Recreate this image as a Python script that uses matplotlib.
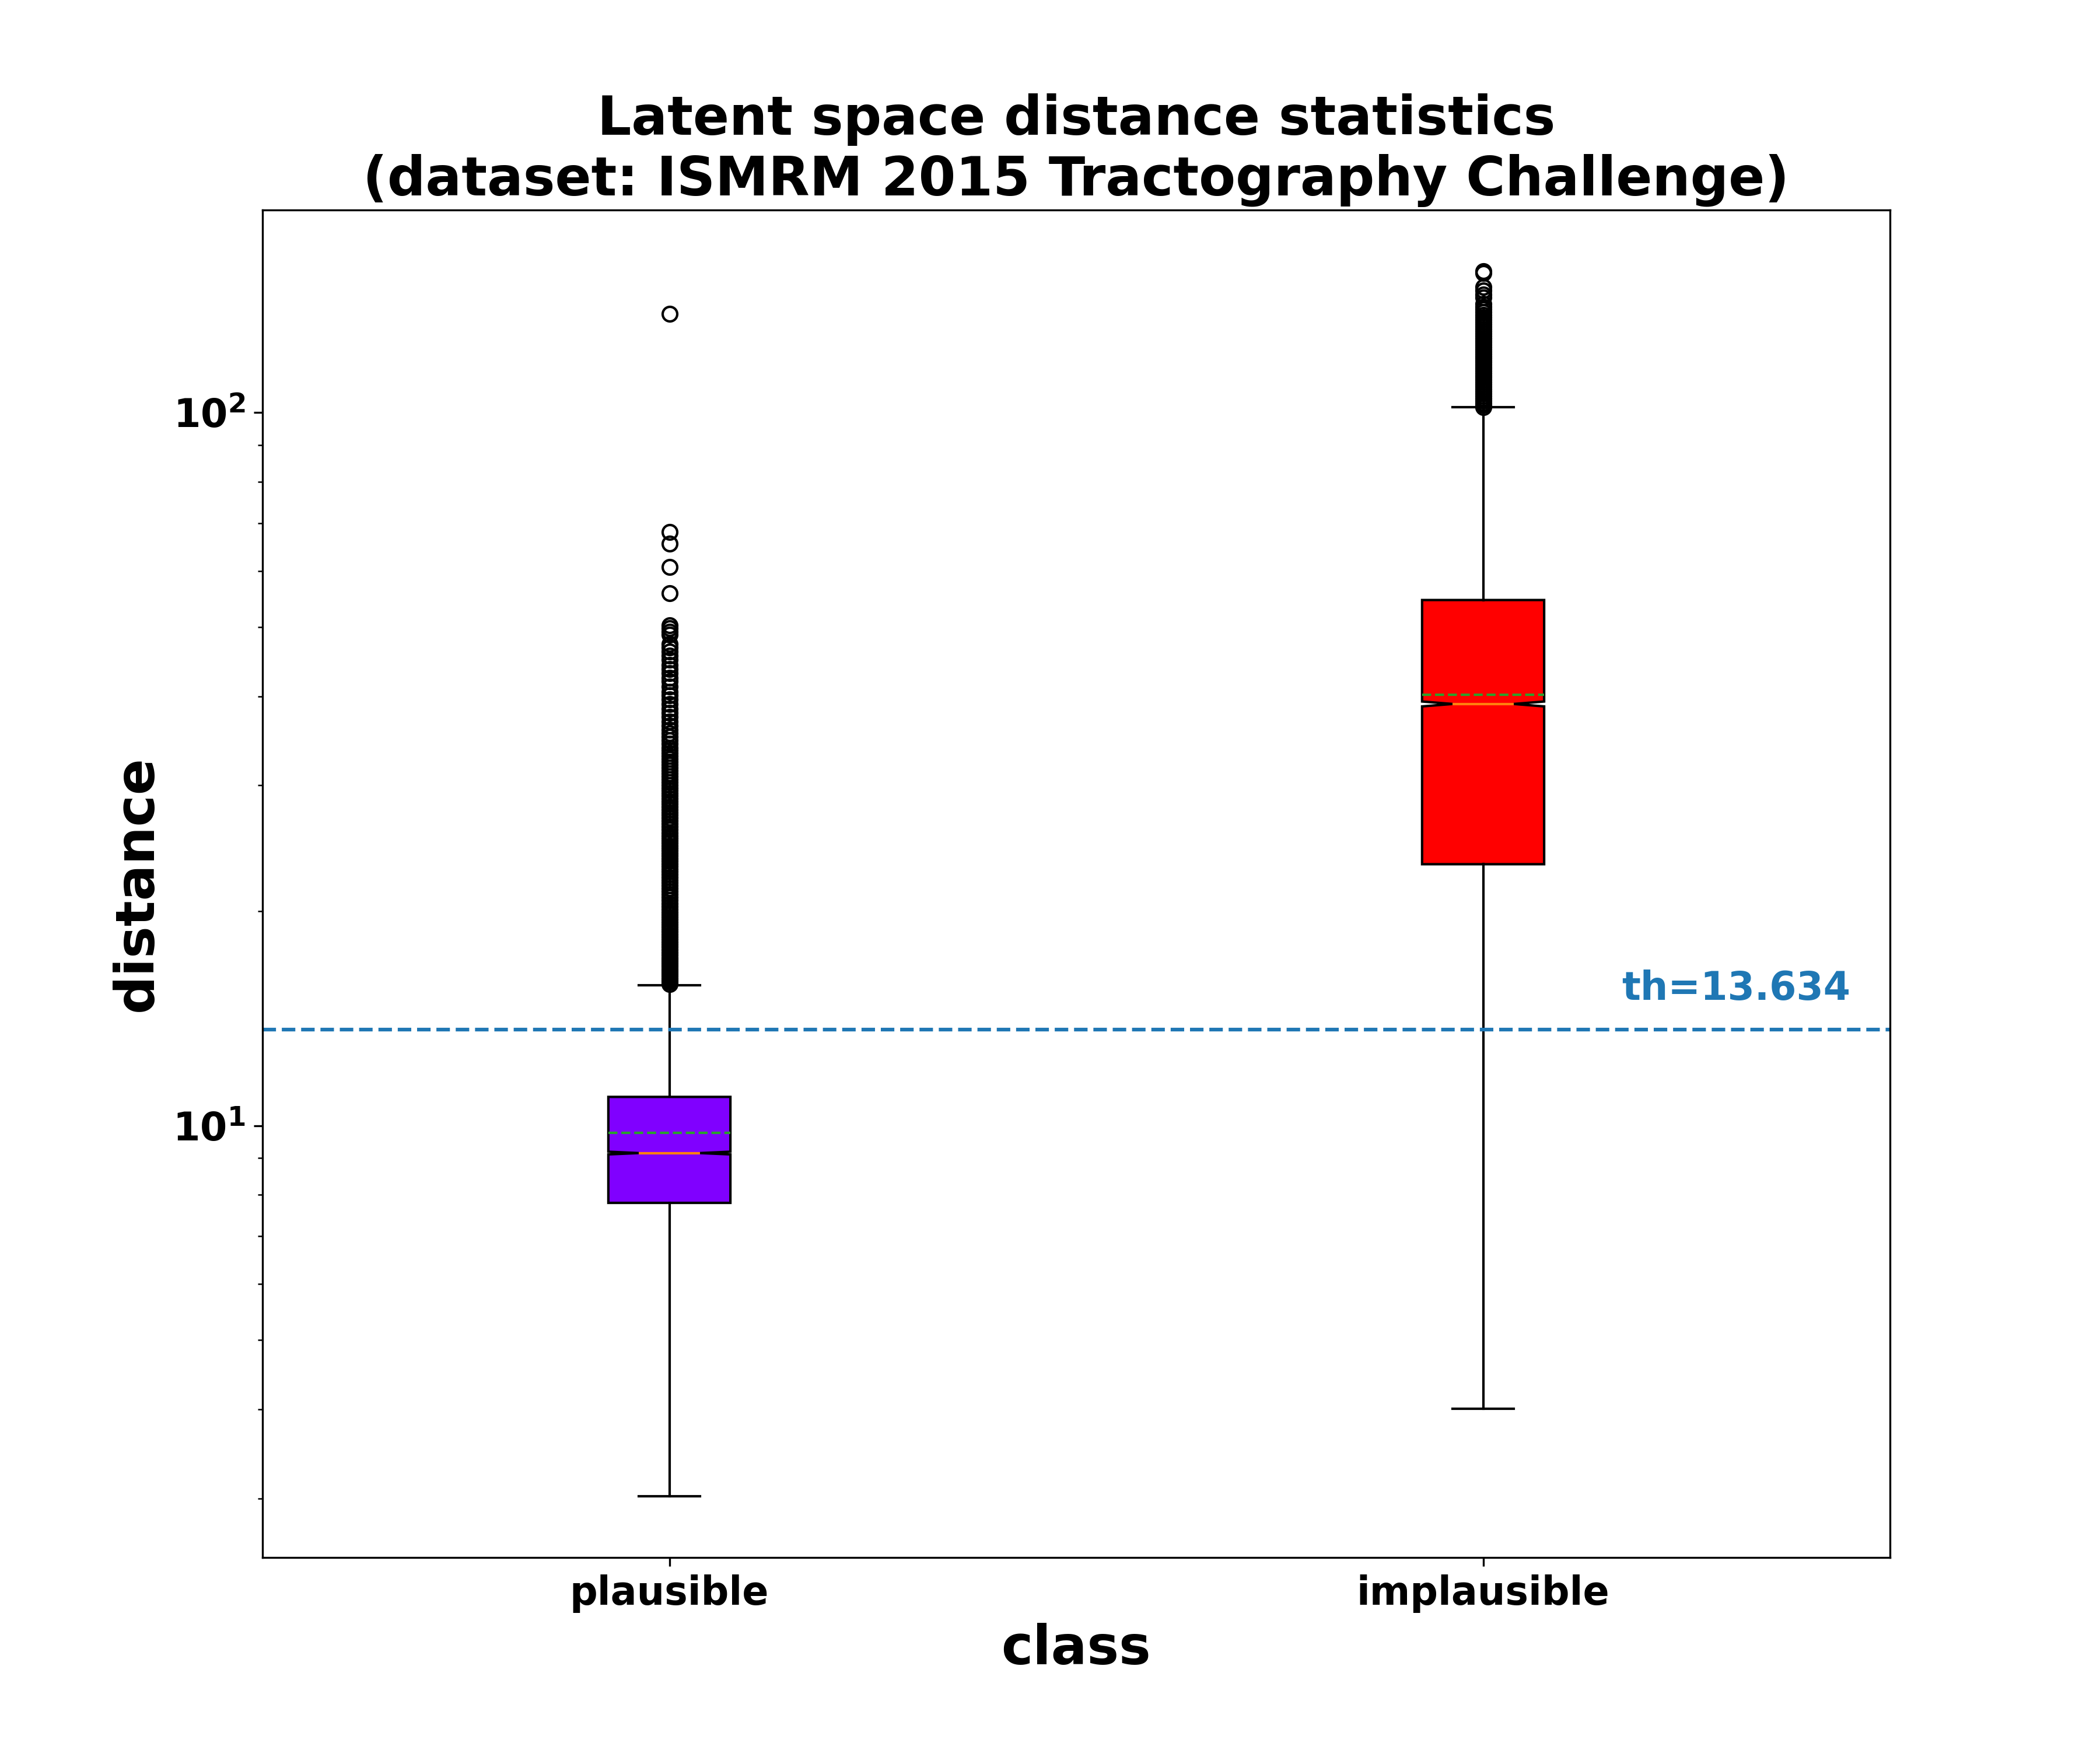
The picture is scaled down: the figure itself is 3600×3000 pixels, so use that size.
import matplotlib
matplotlib.use("Agg")
import matplotlib.pyplot as plt
import numpy as np

CLASSES = ["plausible", "implausible"]
THRESHOLD = 13.634

# box statistics (log axis)
Q1 = [7.79, 23.26]
MEDIAN = [9.15, 39.03]
Q3 = [10.97, 54.6]
MEAN = [9.77, 40.22]
WHISKER_LO = [3.02, 4.01]
WHISKER_HI = [15.74, 101.7]
NOTCH_LO = [9.11, 38.72]
NOTCH_HI = [9.19, 39.34]

PLAUSIBLE_FLIERS = [
    15.8, 15.9, 16.0, 16.1, 16.2, 16.3, 16.4, 16.5, 16.6, 16.7, 16.8, 16.9,
    17.0, 17.1, 17.2, 17.35, 17.5, 17.65, 17.8, 17.95, 18.1, 18.25, 18.4,
    18.55, 18.7, 18.85, 19.0, 19.15, 19.3, 19.45, 19.6, 19.75, 19.9, 20.1,
    20.3, 20.5, 20.7, 20.9, 21.1, 21.3, 21.5, 21.7, 21.9, 22.1, 22.3, 22.5,
    22.7, 22.9, 23.1, 23.3, 23.5, 23.7, 23.9, 24.1, 24.3, 24.5, 24.7, 24.9,
    25.1, 25.3, 25.5, 25.75, 26.0, 26.25, 26.5, 26.75, 27.0, 27.25, 27.5,
    27.75, 28.0, 28.25, 28.5, 28.75, 29.0, 29.25, 29.5, 29.75, 30.0, 30.3,
    30.6, 30.9, 31.2, 31.5, 31.8,
    32.1, 32.4, 32.7, 33.0, 33.3, 33.6, 33.9, 34.3, 34.7, 35.1, 35.5, 35.9,
    36.4, 36.9, 37.4, 37.9, 38.4, 39.0, 39.6, 40.1, 40.6, 41.3, 42.0, 42.5,
    43.1, 43.7, 44.3, 45.0, 45.6, 46.2, 46.8, 47.4, 48.8, 49.3, 49.8, 50.3,
    55.8, 60.8, 65.5, 68.0, 137.7,
]
IMPLAUSIBLE_FLIERS = [
    101.8, 102.5, 103.2, 104.0, 104.8, 105.6, 106.4, 107.2, 108.0, 108.8,
    109.6, 110.4, 111.2, 112.0, 112.8, 113.6, 114.4, 115.2, 116.0, 116.8,
    117.6, 118.4, 119.2, 120.0, 120.9, 121.8, 122.7, 123.6, 124.5, 125.4,
    126.3, 127.2, 128.1, 129.0, 130.0, 131.0, 132.0, 133.0, 134.0, 135.0,
    136.0, 137.2, 138.4, 139.6, 140.8, 142.0, 145.1, 146.5, 148.3, 150.2,
    157.0, 157.9,
]
FLIERS = [PLAUSIBLE_FLIERS, IMPLAUSIBLE_FLIERS]

plt.rcParams["font.weight"] = "bold"
plt.rcParams["mathtext.default"] = "regular"

stats = []
for i, name in enumerate(CLASSES):
    stats.append({
        "label": name,
        "q1": Q1[i], "med": MEDIAN[i], "q3": Q3[i], "mean": MEAN[i],
        "whislo": WHISKER_LO[i], "whishi": WHISKER_HI[i],
        "cilo": NOTCH_LO[i], "cihi": NOTCH_HI[i],
        "fliers": np.array(FLIERS[i]),
    })

fig, ax = plt.subplots(figsize=(12, 10), dpi=300)
ax.set_yscale("log")
bp = ax.bxp(stats, shownotches=True, patch_artist=True, showmeans=True,
            meanline=True)
colors = plt.cm.rainbow(np.linspace(0, 1, len(CLASSES)))
for patch, color in zip(bp["boxes"], colors):
    patch.set_facecolor(color)

ax.axhline(THRESHOLD, linestyle="--", color="C0", linewidth=1.5)
ax.text(2.17, THRESHOLD * 1.1, f"th={THRESHOLD}", color="C0",
        fontsize=16, fontweight="bold")

ax.set_title("Latent space distance statistics\n"
             "(dataset: ISMRM 2015 Tractography Challenge)",
             fontsize=22, fontweight="bold")
ax.set_xlabel("class", fontsize=22, fontweight="bold")
ax.set_ylabel("distance", fontsize=22, fontweight="bold")
ax.tick_params(labelsize=16)

fig.savefig("out.png", dpi=300)
